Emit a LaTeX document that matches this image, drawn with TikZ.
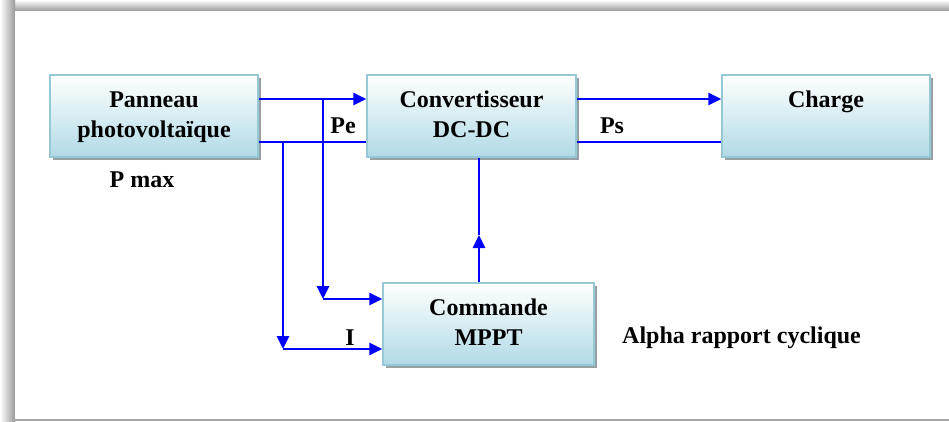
\documentclass[tikz,border=0pt]{standalone}
\usepackage{fontspec}
\setmainfont{Liberation Serif}
\usetikzlibrary{arrows.meta,shadows}
\definecolor{boxblue}{RGB}{176,218,230}
\definecolor{boxline}{RGB}{150,200,214}
\definecolor{shadowgray}{RGB}{140,150,155}
\definecolor{flowblue}{RGB}{0,0,255}
\begin{document}
\begin{tikzpicture}[x=1pt,y=-1pt,
  blk/.style={shade, top color=white, bottom color=boxblue, draw=boxline, line width=1.2pt,
    minimum width=#1, minimum height=82pt, inner sep=0pt, align=center,
    font=\fontsize{24}{30}\selectfont\bfseries,
    drop shadow={shadow xshift=3pt, shadow yshift=-3pt, fill=shadowgray, opacity=0.9}},
  lbl/.style={inner sep=0pt, font=\fontsize{24}{30}\selectfont\bfseries},
  flow/.style={draw=flowblue, line width=2.6pt},
  tip/.style={-{Triangle[length=13pt,width=12pt]}}]
% frame
\fill[white] (0,0) rectangle (949,421);
\shade[top color=white, bottom color=gray!80] (0,0) rectangle (949,11);
\shade[left color=white, right color=gray!80] (0,0) rectangle (15,421);
\fill[white] (15,11) rectangle (949,419);
\fill[gray!70] (15,419) rectangle (949,421);
\useasboundingbox (0,0) rectangle (949,421);
% blocks
\node[blk=208pt] (pv) at (154,116) {\strut Panneau\\\strut photovoltaïque};
\node[blk=209pt] (conv) at (471.5,116) {\strut Convertisseur\\\strut DC-DC};
\node[blk=208pt] (load) at (826,116) {\strut Charge\\\strut};
\node[blk=211pt] (mppt) at (488.5,324) {\strut Commande\\\strut MPPT};
% helper coordinates
\coordinate (ya) at (0,99);
\coordinate (yb) at (0,142);
\coordinate (ja) at (323,99);
\coordinate (jb) at (283,142);
\coordinate (ka) at (323,299);
\coordinate (kb) at (283,349);
\coordinate (m) at (479,235);
% connectors
\draw[flow,tip] (pv.east |- ya) -- (conv.west |- ya);
\draw[flow] (pv.east |- yb) -- (conv.west |- yb);
\draw[flow,tip] (ja) -- (ka);
\draw[flow,tip] (ka) -- (mppt.west |- ka);
\draw[flow,tip] (jb) -- (kb);
\draw[flow,tip] (kb) -- (mppt.west |- kb);
\draw[flow,tip] (conv.east |- ya) -- (load.west |- ya);
\draw[flow] (conv.east |- yb) -- (load.west |- yb);
\draw[flow,tip] (mppt.north -| m) -- (m);
\draw[flow] (m) -- (conv.south -| m);
% labels
\node[lbl, anchor=base] (pe) at (343,133) {Pe};
\node[lbl, anchor=base] (ps) at (612,133) {Ps};
\node[lbl, anchor=base] (ilab) at (350,345) {I};
\node[lbl, anchor=base west] (alpha) at (622,343) {Alpha rapport cyclique};
\node[lbl, anchor=base] (pmax) at (142,187) {P max};
\end{tikzpicture}
\end{document}
